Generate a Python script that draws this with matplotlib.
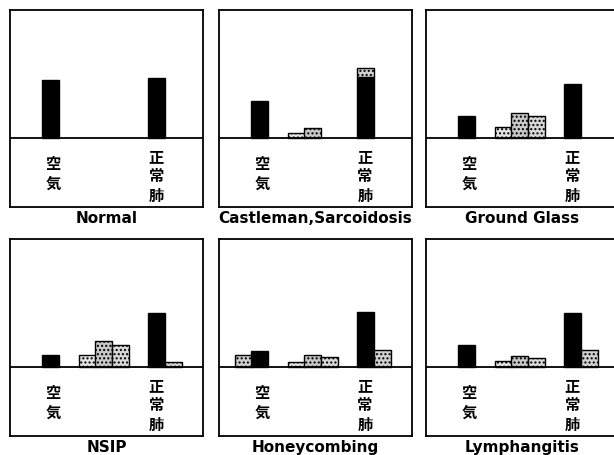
import numpy as np
import matplotlib
matplotlib.use("Agg")
import matplotlib.pyplot as plt

# heights above the baseline for each bar slot, one list per panel
titles = ["Normal", "Castleman,Sarcoidosis", "Ground Glass",
          "NSIP", "Honeycombing", "Lymphangitis"]
air_gray = [0, 0, 0, 0, 12, 0]
air_black = [58, 37, 22, 12, 16, 22]
mid1 = [0, 5, 11, 12, 5, 6]
mid2 = [0, 10, 25, 26, 12, 11]
mid3 = [0, 0, 22, 22, 10, 9]
lung_black = [60, 61, 54, 54, 55, 54]
lung_gray = [0, 0, 0, 5, 17, 17]
lung_cap = [0, 9, 0, 0, 0, 0]
group_labels = ["空気", "正常肺"]

W, H = 614, 456
fig = plt.figure(figsize=(W / 100, H / 100), dpi=100)

# panel boxes in pixels: left, top
lefts = [10, 219, 426]
tops = [11, 240]
pw, ph = 193, 197

bw = 16.5
x_air_g, x_air_b = 16, 32
x_m1, x_m2, x_m3 = 69, 85, 102
x_lung_b, x_lung_g = 138, 155
label_x = [43, 146]

cjk = ["Noto Sans CJK JP", "DejaVu Sans"]

for k in range(6):
    r, c = divmod(k, 3)
    ax = fig.add_axes([lefts[c] / W, 1 - (tops[r] + ph) / H, pw / W, ph / H])
    ax.set_xlim(0, pw)
    ax.set_ylim(-69, 128)
    ax.set_xticks([])
    ax.set_yticks([])
    for s in ax.spines.values():
        s.set_linewidth(1.3)

    def bar(x, h, fc, hatch=None, bottom=0):
        if h <= 0:
            return
        ax.bar(x, h, width=bw, bottom=bottom, align="edge", color=fc,
               edgecolor="black", linewidth=1.0, hatch=hatch, zorder=2)

    bar(x_air_g, air_gray[k], "#d0d0d0", "....")
    bar(x_air_b, air_black[k], "black")
    bar(x_m1, mid1[k], "#e4e4e4", "....")
    bar(x_m2, mid2[k], "#c8c8c8", "....")
    bar(x_m3, mid3[k], "#d8d8d8", "....")
    bar(x_lung_b, lung_black[k], "black")
    bar(x_lung_b, lung_cap[k], "#d0d0d0", "....", bottom=lung_black[k])
    bar(x_lung_g, lung_gray[k], "#d0d0d0", "....")

    ax.axhline(0, color="black", lw=1.3, zorder=3)

    # vertical group labels, one character per line
    for lx, lab, y0 in zip(label_x, group_labels, [-25, -18]):
        for i, ch in enumerate(lab):
            ax.text(lx, y0 - 19.5 * i, ch, family=cjk, fontsize=11,
                    fontweight="bold", ha="center", va="center")

    ax.text(0.5, -0.052, titles[k], transform=ax.transAxes, ha="center",
            va="center", fontsize=11, fontweight="bold", family="DejaVu Sans")

fig.savefig("out.png", dpi=100)
